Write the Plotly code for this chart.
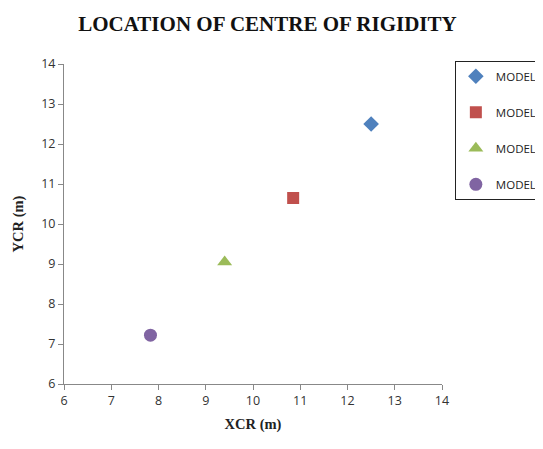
import plotly.graph_objects as go

models = ["MODEL 1", "MODEL 2", "MODEL 3", "MODEL 4"]
xcr = [12.5, 10.85, 9.4, 7.83]
ycr = [12.5, 10.65, 9.05, 7.22]
colors = ["#4F81BD", "#C0504D", "#9BBB59", "#8064A2"]
symbols = ["diamond", "square", "triangle-up", "circle"]
sizes = [12, 12, 13, 13]
ticks = [6, 7, 8, 9, 10, 11, 12, 13, 14]

fig = go.Figure()
for i, m in enumerate(models):
    fig.add_trace(go.Scatter(
        x=[xcr[i]], y=[ycr[i]], mode="markers", name=m, legendgroup=m,
        marker=dict(symbol=symbols[i], color=colors[i], size=sizes[i], line=dict(width=0)),
    ))

axis_common = dict(
    range=[6, 14], tickvals=ticks, showgrid=False, zeroline=False,
    showline=True, linecolor="#888888", linewidth=1,
    ticks="outside", ticklen=5, tickcolor="#888888",
    tickfont=dict(family="Open Sans, Arial", size=12.5, color="#333333"),
    mirror=False,
)

# the page adds an 8px body margin, so the figure is 8px smaller and shifted
fig.update_layout(
    width=535, height=441,
    paper_bgcolor="white", plot_bgcolor="white",
    margin=dict(l=56, r=101, t=56, b=65, autoexpand=False),
    title=dict(text="<b>LOCATION OF CENTRE OF RIGIDITY</b>", x=0.485, xref="container", xanchor="center",
               y=1 - 16 / 441, yanchor="middle",
               font=dict(family="Liberation Serif, Times New Roman", size=21, color="#111111")),
    xaxis=dict(axis_common, title=dict(text="<b>XCR (m)</b>", standoff=10,
               font=dict(family="Liberation Serif, Times New Roman", size=14.5, color="#222222"))),
    yaxis=dict(axis_common, title=dict(text="<b>YCR (m)</b>", standoff=14,
               font=dict(family="Liberation Serif, Times New Roman", size=14.5, color="#222222"))),
    legend=dict(x=1.034, y=1.01, xanchor="left", yanchor="top",
                bordercolor="#222222", borderwidth=1, bgcolor="white",
                tracegroupgap=17, traceorder="grouped",
                font=dict(family="Open Sans, Arial", size=11.5, color="#222222")),
    showlegend=True,
)

fig.write_html("out.html")
